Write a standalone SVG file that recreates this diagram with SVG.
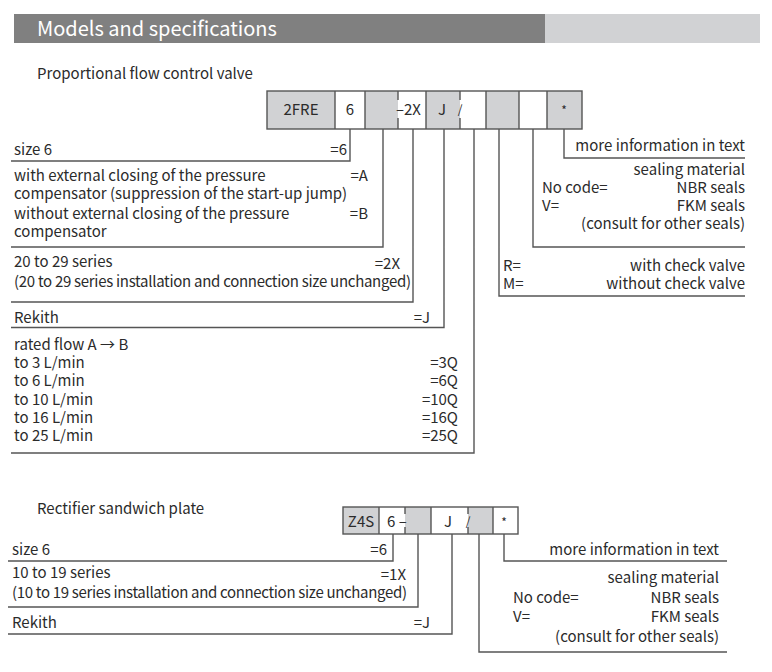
<svg xmlns="http://www.w3.org/2000/svg" width="772" height="672" viewBox="0 0 772 672">
<style>
.t{font-family:"Noto Sans CJK SC","Noto Sans",sans-serif;font-size:15px;fill:#2b2b2b}
.r{text-anchor:end}
.m{text-anchor:middle}
.sm{font-size:12px}
.ln{stroke:#555;stroke-width:1.4;fill:none}
.g{fill:#d1d2d4}
.w{fill:#fff}
.hd{font-family:"Noto Sans CJK SC","Noto Sans",sans-serif;font-size:20px;fill:#fff}
</style>
<rect width="772" height="672" fill="#fff"/>
<g id="header">
<rect x="14" y="14" width="531" height="29" fill="#808080"/>
<rect x="545" y="14" width="215" height="29" fill="#d1d2d4"/>
<text class="hd" x="37" y="36">Models and specifications</text>
</g>
<g id="title-valve"><text class="t" x="37" y="79">Proportional flow control valve</text></g>
<g id="code-valve">
<rect class="g" x="267" y="91" width="68" height="38"/>
<rect class="w" x="335" y="91" width="30" height="38"/>
<rect class="g" x="365" y="91" width="33" height="38"/>
<rect class="w" x="398" y="91" width="28" height="38"/>
<rect class="g" x="426" y="91" width="34" height="38"/>
<rect class="w" x="460" y="91" width="26" height="38"/>
<rect class="g" x="486" y="91" width="33" height="38"/>
<rect class="w" x="519" y="91" width="28" height="38"/>
<rect class="g" x="547" y="91" width="35" height="38"/>
<rect class="ln" x="267" y="91" width="315" height="38"/>
<path class="ln" d="M335 91V129M365 91V129M426 91V129M486 91V129M519 91V129M547 91V129M398 91V100M398 118V129M460 91V100M460 118V129"/>
<text class="t m" x="301" y="115">2FRE</text>
<text class="t m" x="350" y="115">6</text>
<text class="t" x="396" y="115">–2X</text>
<text class="t m" x="442" y="115">J</text>
<text class="t m sm" x="460" y="114">/</text>
<text class="t m sm" x="564" y="115">*</text>
</g>
<g id="connectors">
<path class="ln" d="M350 129V161H11M383 129V247H11M413 129V302H11M444 129V327.5H11M474 129V453H11M499 129V296H745M533 129V247H745M564 129V158H745"/>
<path class="ln" d="M393 534V561H8M418 534V607H8M452 534V634H8M479 534V652H727M504 534V561H727"/>
</g>
<g id="size6">
<text class="t" x="14" y="155">size 6</text>
<text class="t r" x="347" y="155">=6</text>
</g>
<g id="closing">
<text class="t" x="14" y="181">with external closing of the pressure</text>
<text class="t r" x="368" y="181">=A</text>
<text class="t" x="14" y="199">compensator (suppression of the start-up jump)</text>
<text class="t" x="14" y="219">without external closing of the pressure</text>
<text class="t r" x="368" y="219">=B</text>
<text class="t" x="14" y="237">compensator</text>
</g>
<g id="series">
<text class="t" x="14" y="267">20 to 29 series</text>
<text class="t r" x="400" y="269">=2X</text>
<text class="t" x="14" y="287" textLength="397" lengthAdjust="spacing">(20 to 29 series installation and connection size unchanged)</text>
</g>
<g id="rekith">
<text class="t" x="14" y="323">Rekith</text>
<text class="t r" x="430" y="323">=J</text>
</g>
<g id="flow">
<text class="t" x="14" y="350">rated flow A → B</text>
<text class="t" x="14" y="368">to 3 L/min</text><text class="t r" x="458" y="368">=3Q</text>
<text class="t" x="14" y="386">to 6 L/min</text><text class="t r" x="458" y="386">=6Q</text>
<text class="t" x="14" y="405">to 10 L/min</text><text class="t r" x="458" y="405">=10Q</text>
<text class="t" x="14" y="423">to 16 L/min</text><text class="t r" x="458" y="423">=16Q</text>
<text class="t" x="14" y="441">to 25 L/min</text><text class="t r" x="458" y="441">=25Q</text>
</g>
<g id="more-info">
<text class="t r" x="745" y="151">more information in text</text>
</g>
<g id="sealing">
<text class="t r" x="745" y="175">sealing material</text>
<text class="t" x="542" y="193">No code=</text><text class="t r" x="745" y="193">NBR seals</text>
<text class="t" x="542" y="211">V=</text><text class="t r" x="745" y="211">FKM seals</text>
<text class="t r" x="745" y="229">(consult for other seals)</text>
</g>
<g id="check">
<text class="t" x="503" y="271">R=</text><text class="t r" x="745" y="271">with check valve</text>
<text class="t" x="503" y="289">M=</text><text class="t r" x="745" y="289">without check valve</text>
</g>
<g id="title-plate"><text class="t" x="37" y="514">Rectifier sandwich plate</text></g>
<g id="code-plate">
<rect class="g" x="343" y="507" width="36" height="27"/>
<rect class="w" x="379" y="507" width="26" height="27"/>
<rect class="g" x="405" y="507" width="26" height="27"/>
<rect class="w" x="431" y="507" width="37" height="27"/>
<rect class="g" x="468" y="507" width="25" height="27"/>
<rect class="w" x="493" y="507" width="25" height="27"/>
<rect class="ln" x="343" y="507" width="175" height="27"/>
<path class="ln" d="M379 507V534M431 507V534M493 507V534M405 507V514M405 527V534M468 507V514M468 527V534"/>
<text class="t m" x="361" y="527">Z4S</text>
<text class="t" x="387" y="527">6 –</text>
<text class="t m" x="448" y="527">J</text>
<text class="t m sm" x="468" y="526">/</text>
<text class="t m sm" x="504" y="527">*</text>
</g>
<g id="p-size6">
<text class="t" x="12" y="555">size 6</text>
<text class="t r" x="387" y="555">=6</text>
</g>
<g id="p-series">
<text class="t" x="12" y="578">10 to 19 series</text>
<text class="t r" x="406" y="580">=1X</text>
<text class="t" x="12" y="598" textLength="395" lengthAdjust="spacing">(10 to 19 series installation and connection size unchanged)</text>
</g>
<g id="p-rekith">
<text class="t" x="12" y="628">Rekith</text>
<text class="t r" x="430" y="628">=J</text>
</g>
<g id="p-more-info">
<text class="t r" x="719" y="555">more information in text</text>
</g>
<g id="p-sealing">
<text class="t r" x="719" y="583">sealing material</text>
<text class="t" x="513" y="603">No code=</text><text class="t r" x="719" y="603">NBR seals</text>
<text class="t" x="513" y="622">V=</text><text class="t r" x="719" y="622">FKM seals</text>
<text class="t r" x="719" y="642">(consult for other seals)</text>
</g>
</svg>
